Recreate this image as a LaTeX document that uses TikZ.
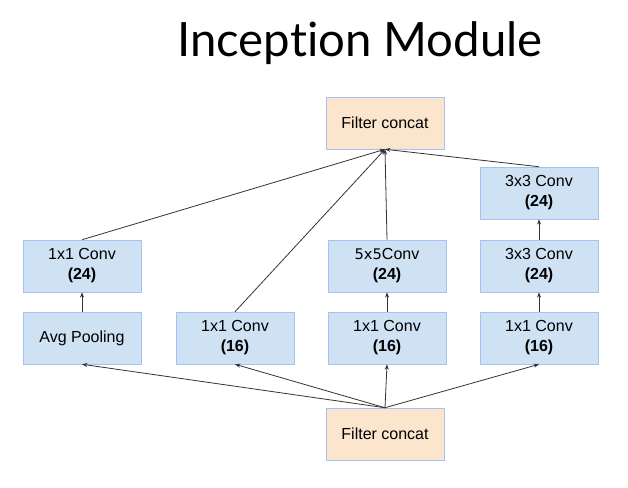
\documentclass[tikz,border=0pt]{standalone}
\usepackage{fontspec}
\setmainfont{Liberation Sans}
\newfontfamily\titlefont[Ligatures=NoCommon]{Lato}
\newfontfamily\numfont{DejaVu Sans}
\usetikzlibrary{arrows.meta}
\definecolor{boxblue}{HTML}{CFE2F3}
\definecolor{boxline}{HTML}{A4C2F4}
\definecolor{boxorange}{HTML}{FCE5CD}
\newcommand{\bw}{88.5pt}
\newcommand{\bh}{39pt}

\begin{document}
\begin{tikzpicture}[x=0.75pt, y=-0.75pt,
    rect/.style={draw=boxline, fill=boxblue, rectangle, minimum width=\bw, minimum height=\bh, inner sep=0pt, align=center, font=\fontsize{12}{15}\selectfont},
    concat/.style={rect, fill=boxorange},
    link/.style={draw=black!80, line width=0.6pt, -{Stealth[length=4pt,width=3pt]}}]
    \useasboundingbox (0,0) rectangle (628,487);

    % Title
    \node (title) at (360,43) {\titlefont\fontsize{35.5}{38}\selectfont Inception Module};

    % Concat nodes
    \node[concat] (concat-top) at (385,123) {Filter concat};
    \node[concat] (concat-bot) at (385,434) {Filter concat};

    % First row
    \node[rect] (rect-1-4) at (539,193) {3x3 Conv\\\textbf{(24)}};

    % Second row
    \node[rect] (rect-2-1) at (82,266) {1x1 Conv\\\textbf{(24)}};
    \node[rect] (rect-2-3) at (387,266) {{\numfont\fontsize{11}{15}\selectfont 5x5}Conv\\\textbf{(24)}};
    \node[rect] (rect-2-4) at (539,266) {3x3 Conv\\\textbf{(24)}};

    % Third row
    \node[rect] (rect-3-1) at (82,338) {Avg Pooling};
    \node[rect] (rect-3-2) at (235,338) {1x1 Conv\\\textbf{(16)}};
    \node[rect] (rect-3-3) at (387,338) {1x1 Conv\\\textbf{(16)}};
    \node[rect] (rect-3-4) at (539,338) {1x1 Conv\\\textbf{(16)}};

    % Input arrows
    \foreach \c in {1,...,4}
        \draw[link] (concat-bot.north) -- (rect-3-\c.south);

    % Inner arrows
    \draw[link] (rect-3-1) -- (rect-2-1);
    \draw[link] (rect-3-3) -- (rect-2-3);
    \draw[link] (rect-3-4) -- (rect-2-4);
    \draw[link] (rect-2-4) -- (rect-1-4);

    % Output arrows
    \foreach \n in {rect-2-1,rect-3-2,rect-2-3,rect-1-4}
        \draw[link] (\n.north) -- (concat-top.south);

\end{tikzpicture}
\end{document}
